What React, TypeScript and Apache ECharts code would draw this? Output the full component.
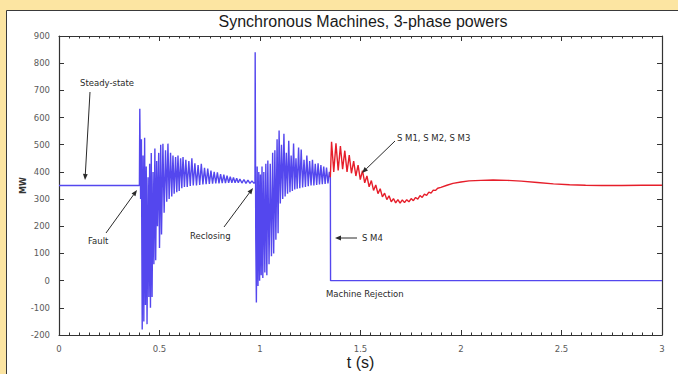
import React, { useEffect, useRef } from "react";
import * as echarts from "echarts";

const TITLE = "Synchronous Machines, 3-phase powers";
const X_LABEL = "t (s)";
const Y_LABEL = "MW";
const X_MIN = 0;
const X_MAX = 3;
const Y_MIN = -200;
const Y_MAX = 900;

// SM4 (blue): time (s) and power (MW)
const SM4_T = [
  0, 0.4, 0.402, 0.406, 0.41, 0.414, 0.418, 0.422, 0.426, 0.43, 0.434, 0.438, 0.443, 0.447, 0.451,
  0.455, 0.459, 0.463, 0.468, 0.472, 0.477, 0.481, 0.486, 0.49, 0.496, 0.5, 0.506, 0.51, 0.517,
  0.523, 0.53, 0.536, 0.542, 0.548, 0.555, 0.561, 0.567, 0.573, 0.58, 0.586, 0.592, 0.598, 0.605,
  0.611, 0.617, 0.624, 0.631, 0.638, 0.646, 0.653, 0.661, 0.668, 0.676, 0.684, 0.692, 0.7, 0.708,
  0.716, 0.724, 0.732, 0.74, 0.748, 0.756, 0.764, 0.772, 0.78, 0.788, 0.796, 0.804, 0.812, 0.82,
  0.828, 0.836, 0.844, 0.852, 0.86, 0.868, 0.876, 0.884, 0.892, 0.9, 0.91, 0.92, 0.93, 0.94, 0.95,
  0.96, 0.97, 0.975,
  0.976, 0.979, 0.982, 0.986, 0.99, 0.994, 0.998, 1.002, 1.006, 1.01, 1.014, 1.019, 1.024, 1.029,
  1.034, 1.039, 1.045, 1.051, 1.057, 1.063, 1.068, 1.074, 1.079, 1.085, 1.09, 1.095, 1.101, 1.107,
  1.113, 1.119, 1.125, 1.131, 1.137, 1.143, 1.149, 1.155, 1.161, 1.167, 1.173, 1.179, 1.185, 1.192,
  1.198, 1.205, 1.212, 1.219, 1.226, 1.233, 1.24, 1.247, 1.254, 1.261, 1.268, 1.275, 1.282, 1.289,
  1.296, 1.303, 1.31, 1.317, 1.324, 1.331, 1.338, 1.345, 1.35, 1.351, 3.0,
];
const SM4_P = [
  350, 350, 632, 300, 520, -180, 460, -150, 526, -90, 420, -160, 380, -60, 430,
  -100, 470, -60, 400, 60, 486, 75, 440, 200, 470, 120, 500, 170, 504,
  250, 480, 290, 504, 300, 470, 310, 460, 320, 455, 325, 460, 330, 450,
  340, 455, 345, 445, 345, 440, 348, 450, 350, 432, 350, 425, 352, 430,
  354, 415, 355, 412, 356, 405, 357, 400, 358, 398, 358, 392, 359, 390,
  359, 386, 360, 382, 360, 380, 360, 377, 360, 374, 359, 372, 358, 370, 358,
  367, 358, 362,
  840, 150, -80, 420, -20, 400, 0, 390, 20, 420, 10, 400, 30, 430,
  20, 442, 60, 430, 90, 470, 100, 480, 150, 520, 174, 552, 284, 500,
  300, 540, 310, 470, 320, 515, 325, 460, 330, 504, 335, 450, 338, 490,
  340, 482, 343, 445, 345, 460, 347, 440, 350, 445, 350, 430, 352, 432,
  354, 425, 355, 420, 356, 416, 358, 400, 380, 0, 0,
];

// SM1, SM2, SM3 (red): time (s) and power (MW)
const SM123_T = [
  1.35, 1.356, 1.367, 1.378, 1.389, 1.4, 1.411, 1.422, 1.433, 1.444, 1.455, 1.466, 1.477, 1.488,
  1.499, 1.51, 1.521, 1.532, 1.543, 1.554, 1.565, 1.576, 1.587, 1.598, 1.609, 1.62, 1.631, 1.642,
  1.653, 1.664, 1.675, 1.686, 1.697, 1.708, 1.719, 1.73, 1.741, 1.752, 1.763, 1.774, 1.785, 1.796,
  1.807, 1.818, 1.829, 1.84, 1.851, 1.862, 1.873, 1.884, 1.9, 1.93, 1.96, 2.0, 2.04, 2.1, 2.16,
  2.23, 2.3, 2.38, 2.46, 2.54, 2.62, 2.7, 2.8, 2.9, 3.0,
];
const SM123_P = [
  380, 511, 400, 505, 405, 495, 410, 478, 400, 462, 395, 440, 385, 425,
  372, 405, 360, 385, 345, 368, 332, 352, 320, 338, 308, 322, 298, 312,
  290, 302, 286, 298, 285, 297, 287, 298, 290, 302, 294, 306, 300, 313,
  306, 318, 314, 326, 322, 333, 332, 340, 343, 351, 358, 363, 367, 369, 370,
  369, 366, 361, 356, 353, 351, 350, 350, 351, 351,
];

const BLUE = "#5447ee";
const RED = "#e61e2a";
const INK = "#2a2a2a";
const AXIS = "#333333";
const TICK_LABEL = "#5a5a5a";

function arrow(x1: number, y1: number, x2: number, y2: number) {
  const ang = Math.atan2(y2 - y1, x2 - x1);
  const len = 6;
  const half = 2.4;
  const bx = x2 - len * Math.cos(ang);
  const by = y2 - len * Math.sin(ang);
  const px = -Math.sin(ang) * half;
  const py = Math.cos(ang) * half;
  return [
    {
      type: "line",
      shape: { x1, y1, x2: bx, y2: by },
      style: { stroke: INK, lineWidth: 1 },
      z: 10,
    },
    {
      type: "polygon",
      shape: { points: [[x2, y2], [bx + px, by + py], [bx - px, by - py]] },
      style: { fill: INK },
      z: 10,
    },
  ];
}

function label(text: string, x: number, y: number) {
  return {
    type: "text",
    x,
    y,
    z: 10,
    style: {
      text,
      fill: INK,
      font: '8.5px "DejaVu Sans"',
      verticalAlign: "middle",
      align: "left",
    },
  };
}

export default function App() {
  const ref = useRef<HTMLDivElement>(null);

  useEffect(() => {
    if (!ref.current) return;
    const chart = echarts.init(ref.current, undefined, { renderer: "svg" });

    const sm4 = SM4_T.map((t, i) => [t, SM4_P[i]]);
    const sm123 = SM123_T.map((t, i) => [t, SM123_P[i]]);

    const tickCommon = {
      inside: true,
      length: 5,
      lineStyle: { color: AXIS, width: 1 },
    };
    const lineCommon = { show: true, onZero: false, lineStyle: { color: AXIS, width: 1.2 } };

    chart.setOption({
      animation: false,
      backgroundColor: "#fce5a2",
      title: {
        text: TITLE,
        left: 358,
        top: 8,
        textAlign: "center",
        textStyle: {
          fontFamily: '"Liberation Sans", Arial, sans-serif',
          fontSize: 16,
          fontWeight: "normal",
          color: "#1a1a1a",
        },
      },
      grid: {
        left: 59,
        right: 16,
        top: 36,
        bottom: 39,
        containLabel: false,
        outerBoundsMode: "none",
      },
      xAxis: [
        {
          type: "value",
          min: X_MIN,
          max: X_MAX,
          interval: 0.5,
          position: "bottom",
          name: X_LABEL,
          nameLocation: "middle",
          nameGap: 19,
          nameMoveOverlap: false,
          nameTextStyle: {
            fontFamily: '"Liberation Sans", Arial, sans-serif',
            fontSize: 16,
            color: "#1a1a1a",
          },
          axisLine: lineCommon,
          axisTick: tickCommon,
          minorTick: { show: true, splitNumber: 10, length: 2.5, lineStyle: { color: AXIS } },
          splitLine: { show: false },
          axisLabel: {
            margin: 9,
            fontFamily: '"DejaVu Sans", sans-serif',
            fontSize: 8.5,
            color: TICK_LABEL,
          },
        },
        {
          type: "value",
          min: X_MIN,
          max: X_MAX,
          interval: 0.5,
          position: "top",
          axisLine: lineCommon,
          axisTick: tickCommon,
          minorTick: { show: true, splitNumber: 10, length: 2.5, lineStyle: { color: AXIS } },
          splitLine: { show: false },
          axisLabel: { show: false },
        },
      ],
      yAxis: [
        {
          type: "value",
          min: Y_MIN,
          max: Y_MAX,
          interval: 100,
          position: "left",
          name: Y_LABEL,
          nameLocation: "middle",
          nameGap: 32,
          nameRotate: 90,
          nameMoveOverlap: false,
          nameTextStyle: {
            fontFamily: '"DejaVu Sans", sans-serif',
            fontSize: 8,
            fontWeight: "bold",
            color: "#333",
          },
          axisLine: lineCommon,
          axisTick: tickCommon,
          splitLine: { show: false },
          axisLabel: {
            margin: 9,
            fontFamily: '"DejaVu Sans", sans-serif',
            fontSize: 8.5,
            color: TICK_LABEL,
          },
        },
        {
          type: "value",
          min: Y_MIN,
          max: Y_MAX,
          interval: 100,
          position: "right",
          axisLine: lineCommon,
          axisTick: tickCommon,
          splitLine: { show: false },
          axisLabel: { show: false },
        },
      ],
      series: [
        {
          name: "SM4",
          type: "line",
          data: sm4,
          showSymbol: false,
          symbol: "none",
          lineStyle: { color: BLUE, width: 1.4 },
          itemStyle: { color: BLUE },
          z: 3,
        },
        {
          name: "SM1, SM2, SM3",
          type: "line",
          data: sm123,
          showSymbol: false,
          symbol: "none",
          lineStyle: { color: RED, width: 1.4 },
          itemStyle: { color: RED },
          z: 4,
        },
      ],
      graphic: [
        {
          type: "rect",
          z: -100,
          silent: true,
          shape: { x: 6.5, y: 10.5, width: 700, height: 400 },
          style: { fill: "#ffffff", stroke: "#3a3a3a", lineWidth: 1 },
        },
        label("Steady-state", 80, 83),
        ...arrow(90, 92, 85, 180),
        label("Fault", 88, 241),
        ...arrow(106, 233, 137, 190),
        label("Reclosing", 190, 236),
        ...arrow(224, 227, 253, 188),
        label("S M1, S M2, S M3", 397, 138),
        ...arrow(395, 141, 362, 173),
        label("S M4", 362, 238),
        ...arrow(357, 238, 335, 238),
        label("Machine Rejection", 326, 294),
      ],
    });

    return () => chart.dispose();
  }, []);

  return (
    <div
      ref={ref}
      style={{ position: "absolute", left: 0, top: 0, width: 678, height: 374 }}
    />
  );
}
